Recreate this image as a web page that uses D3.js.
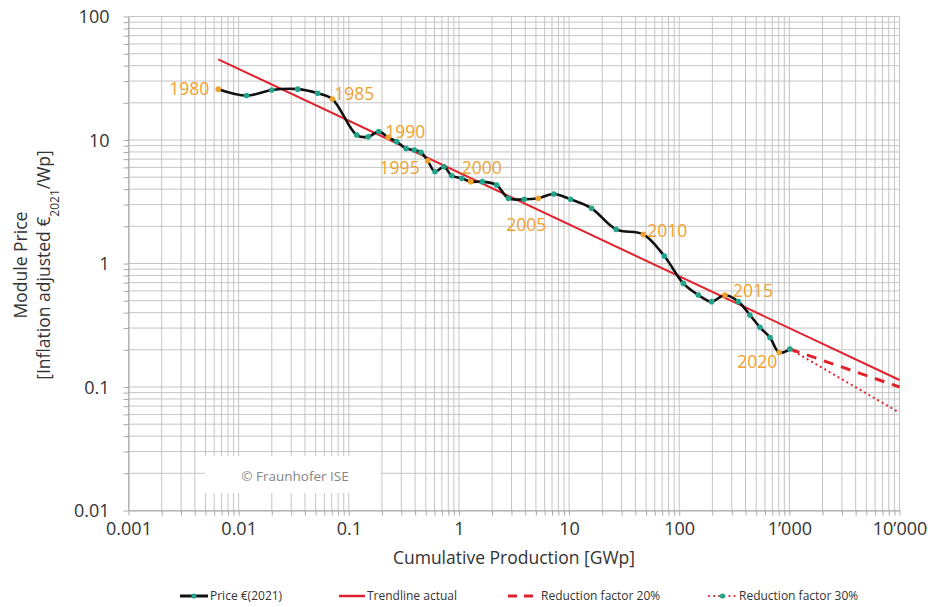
<!DOCTYPE html>
<html>
<head>
<meta charset="utf-8">
<script src="https://cdn.jsdelivr.net/npm/d3@7"></script>
<style>
  body { margin: 0; background: #fff; }
  text { font-family: "Open Sans", "DejaVu Sans", sans-serif; }
</style>
</head>
<body>
<script>
// data ------------------------------------------------
const production = [0.00653, 0.0118, 0.020, 0.0344, 0.0522, 0.0708, 0.118, 0.150, 0.187, 0.228,
  0.272, 0.331, 0.393, 0.452, 0.520, 0.606, 0.731, 0.859, 1.06, 1.28,
  1.63, 2.20, 2.81, 3.92, 5.25, 7.29, 10.3, 16.0, 26.7, 47.2,
  73.2, 109, 149, 197, 260, 344, 438, 541, 666, 809, 1011];
const price = [25.8, 22.9, 25.4, 25.8, 23.9, 21.5, 10.97, 10.6, 11.7, 10.5,
  9.7, 8.55, 8.3, 7.94, 6.8, 5.54, 6.08, 5.14, 4.9, 4.6,
  4.6, 4.32, 3.37, 3.31, 3.37, 3.65, 3.31, 2.80, 1.89, 1.72,
  1.15, 0.69, 0.556, 0.491, 0.556, 0.491, 0.383, 0.304, 0.252, 0.190, 0.203];
const labelYears = [1980, 1985, 1990, 1995, 2000, 2005, 2010, 2015, 2020];
const labelIndex = [0, 5, 9, 14, 19, 24, 29, 34, 39];

const trendX = [0.00653, 10000];
const trendY = [45, 0.114];
const red20X = [1011, 10000];
const red20Y = [0.203, 0.100];
const red30X = [1011, 10000];
const red30Y = [0.203, 0.062];

const xTickLabels = ["0.001", "0.01", "0.1", "1", "10", "100", "1’000", "10’000"];
const yTickLabels = ["0.01", "0.1", "1", "10", "100"];
const legendNames = ["Price €(2021)", "Trendline actual", "Reduction factor 20%", "Reduction factor 30%"];

// label placement (layout only)
const labelPos = {
  1980: ["end", -9, 0], 1985: ["start", 2, -5], 1990: ["start", -3, -6],
  1995: ["end", -8, 7], 2000: ["start", -9, -14], 2005: ["start", -32, 27],
  2010: ["start", 4, -4], 2015: ["start", 8, -4], 2020: ["end", -2, 9]
};

const red = "#e0222c", green = "#22a38a", orange = "#f0a22e", grid = "#c4c4c4";

const svg = d3.select("body").append("svg")
    .attr("width", 932).attr("height", 607)
    .style("background-color", "#fff");

const x = d3.scaleLog().domain([0.001, 10000]).range([128.5, 899.5]);
const y = d3.scaleLog().domain([0.01, 100]).range([510.5, 16.5]);

const isMajor = v => Math.abs(Math.log10(v) - Math.round(Math.log10(v))) < 1e-9;

// grid
const gGrid = svg.append("g");
gGrid.selectAll("line.vx").data(x.ticks()).enter().append("line")
    .attr("x1", d => x(d)).attr("x2", d => x(d))
    .attr("y1", y(100)).attr("y2", y(0.01))
    .attr("stroke", grid).attr("stroke-width", 1);
gGrid.selectAll("line.hy").data(y.ticks()).enter().append("line")
    .attr("x1", x(0.001)).attr("x2", x(10000))
    .attr("y1", d => y(d)).attr("y2", d => y(d))
    .attr("stroke", grid).attr("stroke-width", 1);

// axes
const xAxis = svg.append("g").attr("transform", "translate(0," + y(0.01) + ")")
    .call(d3.axisBottom(x).tickValues(x.ticks()).tickSize(5).tickSizeOuter(0)
      .tickFormat(d => isMajor(d) ? xTickLabels[Math.round(Math.log10(d)) + 3] : ""));
const yAxis = svg.append("g").attr("transform", "translate(" + x(0.001) + ",0)")
    .call(d3.axisLeft(y).tickValues(y.ticks()).tickSize(5).tickSizeOuter(0)
      .tickFormat(d => isMajor(d) ? yTickLabels[Math.round(Math.log10(d)) + 2] : ""));
[xAxis, yAxis].forEach(a => {
  a.select(".domain").attr("stroke", "#a8a8a8");
  a.selectAll(".tick line").attr("stroke", "#a8a8a8");
  a.selectAll(".tick text").attr("fill", "#333").style("font-size", "18px")
    .style("font-family", "'Open Sans', sans-serif");
});
xAxis.selectAll(".tick text").attr("y", 12);
yAxis.selectAll(".tick text").attr("x", -19).attr("dy", "0.35em");

// watermark
svg.append("rect").attr("x", 205).attr("y", 456).attr("width", 176).attr("height", 37).attr("fill", "#fff");
svg.append("text").attr("x", 295).attr("y", 481).attr("text-anchor", "middle")
    .attr("fill", "#858585").style("font-size", "13.5px").text("© Fraunhofer ISE");

// trend + projections
const pts = (xs, ys) => xs.map((v, i) => [v, ys[i]]);
const straight = d3.line().x(d => x(d[0])).y(d => y(d[1]));
svg.append("path").attr("d", straight(pts(trendX, trendY)))
    .attr("fill", "none").attr("stroke", red).attr("stroke-width", 2);
svg.append("path").attr("d", straight(pts(red20X, red20Y)))
    .attr("fill", "none").attr("stroke", red).attr("stroke-width", 3)
    .attr("stroke-dasharray", "10,8");
svg.append("path").attr("d", straight(pts(red30X, red30Y)))
    .attr("fill", "none").attr("stroke", red).attr("stroke-width", 2.2)
    .attr("stroke-dasharray", "0.1,5").attr("stroke-linecap", "round");

// price curve
const smooth = d3.line().x(d => x(d[0])).y(d => y(d[1])).curve(d3.curveCatmullRom.alpha(0.5));
const pricePts = pts(production, price);
svg.append("path").attr("d", smooth(pricePts))
    .attr("fill", "none").attr("stroke", "#111").attr("stroke-width", 2.6);
svg.selectAll("circle.pt").data(pricePts).enter().append("circle")
    .attr("cx", d => x(d[0])).attr("cy", d => y(d[1])).attr("r", 2.8)
    .attr("fill", (d, i) => labelIndex.includes(i) ? orange : green);

// year labels
labelYears.forEach((yr, k) => {
  const p = pricePts[labelIndex[k]], lp = labelPos[yr];
  svg.append("text").attr("x", x(p[0]) + lp[1]).attr("y", y(p[1]) + lp[2])
      .attr("dy", "0.35em").attr("text-anchor", lp[0])
      .attr("fill", orange).style("font-size", "17.5px").text(yr);
});

// axis titles
svg.append("text").attr("x", 514).attr("y", 558).attr("dy", "0.35em")
    .attr("text-anchor", "middle").attr("fill", "#333").style("font-size", "17.5px")
    .text("Cumulative Production [GWp]");
const yt = svg.append("g").attr("transform", "translate(0,265) rotate(-90)");
yt.append("text").attr("x", 0).attr("y", 21).attr("dy", "0.35em").attr("text-anchor", "middle")
    .attr("fill", "#333").style("font-size", "17.5px").text("Module Price");
const yt2 = yt.append("text").attr("x", 0).attr("y", 44).attr("dy", "0.35em").attr("text-anchor", "middle")
    .attr("fill", "#333").style("font-size", "17.5px");
yt2.append("tspan").text("[Inflation adjusted €");
yt2.append("tspan").attr("baseline-shift", "sub").style("font-size", "12px").text("2021");
yt2.append("tspan").text("/Wp]");

// legend
const lg = svg.append("g").style("font-family", "'Liberation Sans Narrow', 'Open Sans', sans-serif");
const legY = 596;
const legItems = [
  {x1: 180, x2: 208, tx: 210, stroke: "#111", w: 3, dash: null, dot: true},
  {x1: 339, x2: 365, tx: 367, stroke: red, w: 2.5, dash: null, dot: false},
  {x1: 508, x2: 537, tx: 541, stroke: red, w: 3, dash: "9,7", dot: false},
  {x1: 709, x2: 736, tx: 739, stroke: red, w: 2.2, dash: "0.1,5", dot: true}
];
legItems.forEach((it, i) => {
  lg.append("line").attr("x1", it.x1).attr("x2", it.x2).attr("y1", legY).attr("y2", legY)
      .attr("stroke", it.stroke).attr("stroke-width", it.w)
      .attr("stroke-dasharray", it.dash).attr("stroke-linecap", it.dash === "0.1,5" ? "round" : "butt");
  if (it.dot) lg.append("circle").attr("cx", (it.x1 + it.x2) / 2).attr("cy", legY).attr("r", 2.6).attr("fill", green);
  lg.append("text").attr("x", it.tx).attr("y", legY).attr("dy", "0.35em")
      .attr("fill", "#333").style("font-size", "12px")
      .style("font-family", "'Liberation Sans Narrow', 'Open Sans', sans-serif")
      .text(legendNames[i]);
});
</script>
</body>
</html>
